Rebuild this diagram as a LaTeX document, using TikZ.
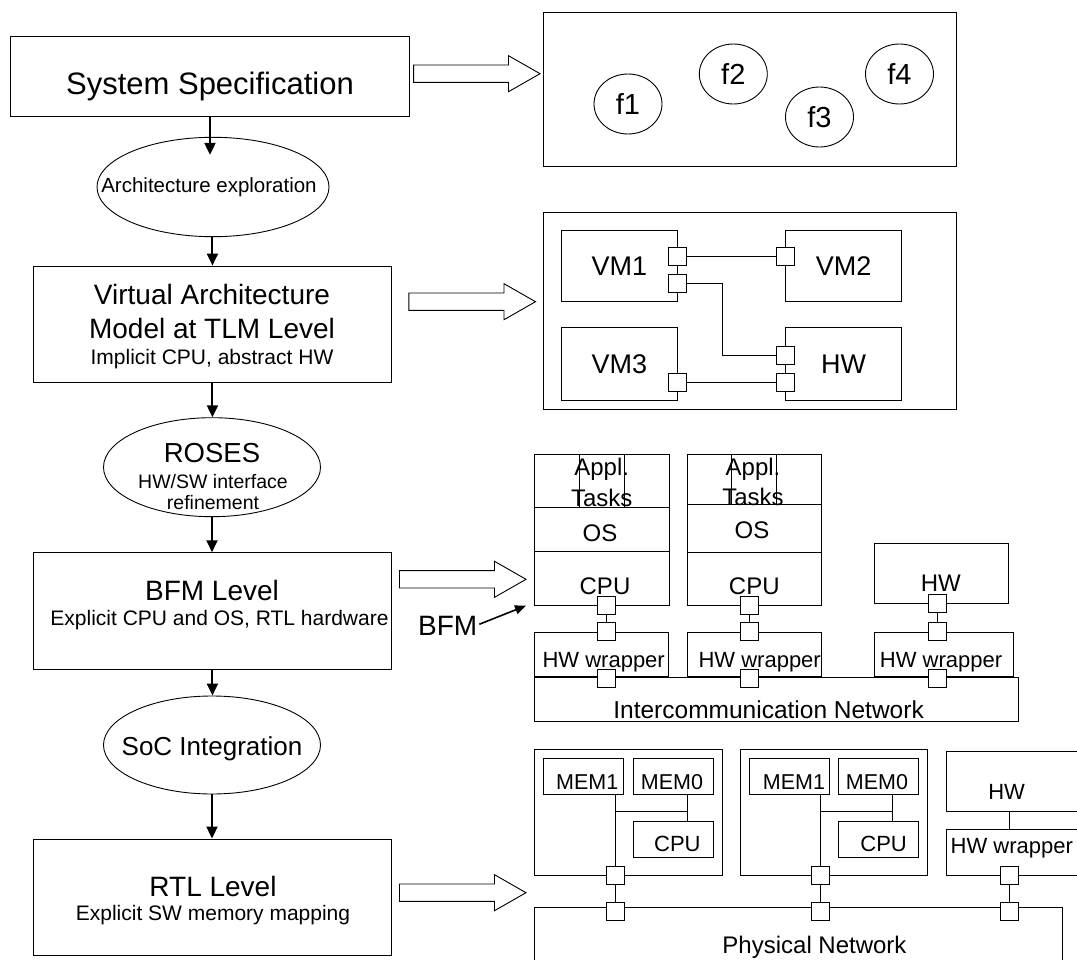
\documentclass[tikz,border=0pt]{standalone}
\usepackage{fontspec}
\setmainfont{Liberation Sans}
\usetikzlibrary{shapes.geometric,arrows.meta,calc}
\newcommand\fsz[1]{\fontsize{#1}{#1}\selectfont}
\tikzset{
 box/.style={draw, line width=0.9pt, inner sep=0pt, rectangle},
 ell/.style={draw, line width=0.9pt, ellipse, inner sep=0pt},
 port/.style={draw, line width=0.9pt, fill=white, minimum width=18pt, minimum height=18pt, inner sep=0pt},
 txt/.style={font=\fsz{#1}, inner sep=0pt, text depth=0pt,
   /utils/exec={\pgfmathsetmacro\mytexth{0.716*#1}}, text height=\mytexth pt},
 flow/.style={line width=2pt, -{Triangle[length=12pt,width=11pt]}},
 harrowstyle/.style={draw, line width=0.9pt, fill=white},
 wire/.style={line width=0.9pt},
}
\newcommand\harrow[3]{\draw[harrowstyle] (#1,#3-8.7) -- (#2-31.5,#3-8.7) -- (#2-31.5,#3-18) -- (#2,#3) -- (#2-31.5,#3+18) -- (#2-31.5,#3+8.7) -- (#1,#3+8.7) -- cycle;}
\begin{document}
\begin{tikzpicture}[x=1pt,y=-1pt]
\useasboundingbox (0,0) rectangle (1077,960);
\clip (0,0) rectangle (1077,960);
% ---------------- left column ----------------
\node[box, minimum width=398.6pt, minimum height=79.3pt] (spec) at (210,76.35) {};
\node[txt=31] at (210,83) {System Specification};
\node[ell, minimum width=232pt, minimum height=99.4pt] (arch) at (213,187) {};
\node[txt=20.5] at (209,185) {Architecture exploration};
\node[box, minimum width=358.1pt, minimum height=116.3pt] (va) at (212.45,324.15) {};
\node[txt=28] at (212,294) {Virtual Architecture};
\node[txt=28] at (212,328) {Model at TLM Level};
\node[txt=21] at (212,357) {Implicit CPU, abstract HW};
\node[ell, minimum width=217pt, minimum height=99pt] (roses) at (212,467.2) {};
\node[txt=27.5] at (212,453) {ROSES};
\node[txt=19.5] at (213,482) {HW/SW interface};
\node[txt=19.5] at (213,502.5) {refinement};
\node[box, minimum width=358.1pt, minimum height=116.3pt] (bfm) at (212.45,610.85) {};
\node[txt=28] at (212,590) {BFM Level};
\node[txt=21] at (219.5,618) {Explicit CPU and OS, RTL hardware};
\node[ell, minimum width=217pt, minimum height=98pt] (soc) at (212,745) {};
\node[txt=26] at (212,746) {SoC Integration};
\node[box, minimum width=358.1pt, minimum height=116pt] (rtl) at (212.45,897) {};
\node[txt=28] at (213,886) {RTL Level};
\node[txt=21] at (213,913) {Explicit SW memory mapping};
\draw[flow, shorten >=-18pt] (spec.south) -- (spec.south |- arch.north);
\draw[flow] (arch.south -| va.north) -- (va.north);
\draw[flow] (va.south) -- (va.south |- roses.north);
\draw[flow] (roses.south) -- (roses.south |- bfm.north);
\draw[flow] (bfm.south) -- (bfm.south |- soc.north);
\draw[flow] (soc.south) -- (soc.south |- rtl.north);
% hollow arrows
\harrow{413.6}{540}{73.7}
\harrow{408.8}{535.5}{301.7}
\harrow{399.5}{526}{579.3}
\harrow{399.5}{526}{892.7}
% ---------------- specification frame ----------------
\node[box, minimum width=413pt, minimum height=154pt] (frame1) at (749.5,89) {};
\node[ell, minimum width=68pt, minimum height=60pt, font=\fsz{29}] (f1) at (628,104) {f1};
\node[ell, minimum width=68pt, minimum height=60pt, font=\fsz{29}] (f2) at (733.3,74) {f2};
\node[ell, minimum width=68pt, minimum height=60pt, font=\fsz{29}] (f3) at (819.5,117) {f3};
\node[ell, minimum width=68pt, minimum height=60pt, font=\fsz{29}] (f4) at (899.5,74) {f4};
% ---------------- virtual architecture frame ----------------
\node[box, minimum width=413pt, minimum height=197pt] (frame2) at (749.5,310.5) {};
\node[box, minimum width=116.7pt, minimum height=71.7pt, font=\fsz{27}] (vm1) at (619.35,265.85) {VM1};
\node[box, minimum width=116pt, minimum height=71.7pt, font=\fsz{27}] (vm2) at (843.7,265.85) {VM2};
\node[box, minimum width=116.7pt, minimum height=72.3pt, font=\fsz{27}] (vm3) at (619.35,363.85) {VM3};
\node[box, minimum width=116pt, minimum height=72.3pt, font=\fsz{27}] (hwv) at (843.7,363.85) {HW};
\node[port] (p1) at (677.5,256.7) {};
\node[port] (p2) at (677.5,283.7) {};
\node[port] (p3) at (785.2,256.7) {};
\node[port] (p4) at (785.2,355.2) {};
\node[port] (p5) at (785.2,382.5) {};
\node[port] (p6) at (677.5,382.5) {};
\coordinate (b1) at (722.3,320);
\draw[wire] (p1.east) -- (p3.west);
\draw[wire] (p2.east) -| (b1) |- (p4.west);
\draw[wire] (p6.east) -- (p5.west);
% ---------------- BFM frame ----------------
\node[box, minimum width=134.5pt, minimum height=53.7pt] (appl1) at (601.75,480.85) {};
\node[box, minimum width=134.5pt, minimum height=43.3pt] (os1) at (601.75,529.35) {};
\node[box, minimum width=134.5pt, minimum height=54pt] (cpu1) at (601.75,578) {};
\draw[wire] (579.5,454) -- (579.5,507.7);
\draw[wire] (624.4,454) -- (624.4,507.7);
\node[txt=24] at (601.7,467) {Appl.};
\node[txt=24] at (601.7,498) {Tasks};
\node[txt=24] at (600,533) {OS};
\node[txt=24] at (605,585.5) {CPU};
\node[box, minimum width=134pt, minimum height=50.3pt] (appl2) at (754,479.15) {};
\node[box, minimum width=134pt, minimum height=48pt] (os2) at (754,528.3) {};
\node[box, minimum width=134pt, minimum height=52.7pt] (cpu2) at (754,578.65) {};
\draw[wire] (731.5,454) -- (731.5,504.3);
\draw[wire] (776.3,454) -- (776.3,504.3);
\node[txt=24] at (753,467) {Appl.};
\node[txt=24] at (753,497) {Tasks};
\node[txt=24] at (752,530) {OS};
\node[txt=24] at (754.3,585.5) {CPU};
\node[box, minimum width=133.9pt, minimum height=60pt] (hwb) at (941.25,573.3) {};
\node[txt=24] at (940.8,583.3) {HW};
\node[box, minimum width=133.9pt, minimum height=44.4pt] (w1) at (601.65,654.5) {};
\node[box, minimum width=134pt, minimum height=44.4pt] (w2) at (754,654.5) {};
\node[box, minimum width=138.7pt, minimum height=44.4pt] (w3) at (943.65,654.5) {};
\node[txt=22] at (603.7,660) {HW wrapper};
\node[txt=22] at (759.7,660) {HW wrapper};
\node[txt=22] at (941,660) {HW wrapper};
\node[box, minimum width=483.7pt, minimum height=44pt] (icn) at (776.55,699.7) {};
\node[txt=24.5] at (768.6,710) {Intercommunication Network};
\node[port] (s1a) at (606.5,605) {};
\node[port] (s1b) at (606.5,631.7) {};
\node[port] (s1c) at (606.5,678.3) {};
\node[port] (s2a) at (749.6,605) {};
\node[port] (s2b) at (749.6,631.7) {};
\node[port] (s2c) at (749.6,678.3) {};
\node[port] (s3a) at (937.4,603) {};
\node[port] (s3b) at (937.4,631.3) {};
\node[port] (s3c) at (937.4,678.3) {};
\draw[wire] (s1a.south) -- (s1b.north);
\draw[wire] (s2a.south) -- (s2b.north);
\draw[wire] (s3a.south) -- (s3b.north);
\node[txt=28] (bfmlbl) at (447.7,625) {BFM};
\coordinate (bfmtip) at (526,605.7);
\draw[line width=1.6pt, -{Triangle[length=11pt,width=9pt]}, shorten <=2pt] (bfmlbl.east) -- (bfmtip);
% ---------------- RTL frame ----------------
\node[box, minimum width=187.8pt, minimum height=125.7pt] (pe1) at (628.6,812.15) {};
\node[box, minimum width=79.9pt, minimum height=35.7pt] (mem1a) at (583.75,776.15) {};
\node[box, minimum width=79.8pt, minimum height=35.7pt] (mem0a) at (673.1,776.15) {};
\node[box, minimum width=79.8pt, minimum height=36.3pt] (cpua) at (673.1,839.15) {};
\node[txt=21.5] at (587.2,781.3) {MEM1};
\node[txt=21.5] at (672,781.3) {MEM0};
\node[txt=22] at (677.4,843.3) {CPU};
\node[box, minimum width=187.4pt, minimum height=125.7pt] (pe2) at (833.9,812.15) {};
\node[box, minimum width=79.9pt, minimum height=35.7pt] (mem1b) at (789.65,776.15) {};
\node[box, minimum width=79.8pt, minimum height=35.7pt] (mem0b) at (878.2,776.15) {};
\node[box, minimum width=79.8pt, minimum height=36.3pt] (cpub) at (878.2,839.15) {};
\node[txt=21.5] at (794,781.3) {MEM1};
\node[txt=21.5] at (877,781.3) {MEM0};
\node[txt=22] at (883.6,843.3) {CPU};
\node[box, minimum width=143.8pt, minimum height=60pt] (hwc) at (1018.1,781.7) {};
\node[txt=22] at (1006.6,791.7) {HW};
\node[box, minimum width=143.8pt, minimum height=45.7pt] (hww) at (1018.1,852.15) {};
\node[txt=22,anchor=west] at (950.5,846) {HW wrapper};
\node[box, minimum width=528.1pt, minimum height=67.3pt] (phy) at (798.75,941.35) {};
\node[txt=24] at (814.5,945) {Physical Network};
\node[port] (pe1p) at (615.5,875) {};
\node[port] (pe1n) at (615.5,911) {};
\node[port] (pe2p) at (820,875) {};
\node[port] (pe2n) at (820,911) {};
\node[port] (hwp) at (1009.3,875) {};
\node[port] (hwn) at (1009.3,911) {};
\draw[wire] (pe1p.north |- mem1a.south) -- (pe1p.north);
\draw[wire] (615.5,811.7) -- (687.1,811.7);
\draw[wire] (687.1,794) -- (687.1,821);
\draw[wire] (pe2p.north |- mem1b.south) -- (pe2p.north);
\draw[wire] (820,811.7) -- (892.2,811.7);
\draw[wire] (892.2,794) -- (892.2,821);
\draw[wire] (hwp.north |- hwc.south) -- (hwp.north |- hww.north);
\draw[wire] (pe1p.south) -- (pe1n.north);
\draw[wire] (pe2p.south) -- (pe2n.north);
\draw[wire] (hwp.south) -- (hwn.north);
\end{tikzpicture}
\end{document}
